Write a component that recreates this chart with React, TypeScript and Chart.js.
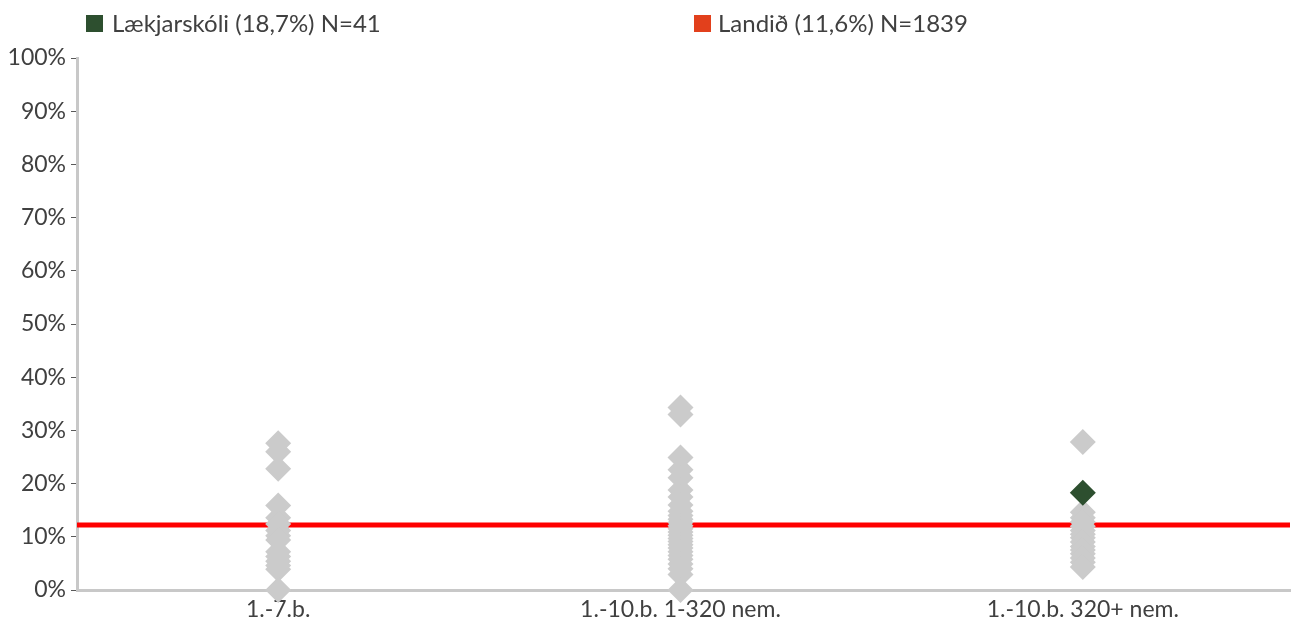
import React, { useEffect, useRef } from "react";
import { Chart, registerables } from "chart.js";

Chart.register(...registerables);

const categories = ["1.-7.b.", "1.-10.b. 1-320 nem.", "1.-10.b. 320+ nem."];
const yTickValues = [0, 10, 20, 30, 40, 50, 60, 70, 80, 90, 100];

// Other schools (grey diamonds), percent, by category
const schools1to7 = [27.6, 26.0, 22.8, 15.9, 13.6, 12.4, 11.2, 10.2, 9.4, 7.2, 6.3, 5.4, 4.6, 3.9, 0.0];
const schools1to10Small = [
  34.3, 33.0, 24.9, 22.6, 21.1, 18.8, 17.5, 16.0, 14.8, 14.0, 13.3, 12.7, 12.1, 11.5,
  10.9, 10.3, 9.7, 9.1, 8.5, 7.9, 7.2, 6.5, 5.8, 4.9, 4.0, 2.9, 0.0,
];
const schools1to10Large = [27.8, 14.6, 13.6, 12.8, 12.0, 11.2, 10.5, 9.8, 9.0, 8.2, 7.5, 6.8, 6.0, 5.2, 4.3];

// Highlighted school
const schoolName = "Lækjarskóli (18,7%) N=41";
const schoolCategoryIndex = 2;
const schoolValue = 18.3;

// National average line
const nationalName = "Landið (11,6%) N=1839";
const nationalValue = 12.2;

const greyColumns = [schools1to7, schools1to10Small, schools1to10Large];

export default function App() {
  const canvasRef = useRef<HTMLCanvasElement | null>(null);

  useEffect(() => {
    document.body.style.margin = "0";
    const canvas = canvasRef.current;
    if (!canvas) return;

    const greyPoints: { x: number; y: number }[] = [];
    greyColumns.forEach((col, i) => col.forEach((v) => greyPoints.push({ x: i, y: v })));

    const chart = new Chart(canvas, {
      type: "scatter",
      data: {
        datasets: [
          {
            label: schoolName,
            data: [{ x: schoolCategoryIndex, y: schoolValue }],
            pointStyle: "rectRot",
            pointRadius: 13,
            pointBackgroundColor: "#2d4f2f",
            pointBorderWidth: 0,
            clip: false,
          } as any,
          {
            label: "Aðrir skólar",
            data: greyPoints,
            pointStyle: "rectRot",
            pointRadius: 13,
            pointBackgroundColor: "#cbcbcb",
            pointBorderWidth: 0,
            clip: false,
          } as any,
          {
            type: "line",
            label: nationalName,
            data: [
              { x: -0.5, y: nationalValue },
              { x: 2.515, y: nationalValue },
            ],
            borderColor: "#ff0000",
            borderWidth: 5,
            pointRadius: 0,
            showLine: true,
            fill: false,
          } as any,
        ],
      },
      options: {
        animation: false,
        responsive: false,
        events: [],
        layout: { padding: { top: 58, right: 9, left: 0, bottom: 0 } },
        plugins: { legend: { display: false }, tooltip: { enabled: false } },
        scales: {
          x: {
            type: "linear",
            min: -0.5,
            max: 2.515,
            afterBuildTicks: (scale: any) => {
              scale.ticks = categories.map((_, i) => ({ value: i }));
            },
            afterFit: (scale: any) => {
              scale.height = 31;
            },
            grid: { display: false },
            border: { display: true, color: "#c8c8c8", width: 3 },
            ticks: {
              padding: -2,
              color: "#404040",
              font: { family: "Lato", size: 23 },
              callback: (v: any) => categories[Math.round(Number(v))] ?? "",
              maxRotation: 0,
              autoSkip: false,
            },
          },
          y: {
            min: 0,
            max: 100,
            afterBuildTicks: (scale: any) => {
              scale.ticks = yTickValues.map((v) => ({ value: v }));
            },
            afterFit: (scale: any) => {
              scale.width = 77;
            },
            grid: {
              drawOnChartArea: false,
              drawTicks: true,
              tickLength: 6,
              tickColor: "#595959",
              tickWidth: 1,
            },
            border: { display: true, color: "#c8c8c8", width: 3 },
            ticks: {
              padding: 5,
              color: "#404040",
              font: { family: "Lato", size: 23 },
              callback: (v: any) => `${v}%`,
            },
          },
        },
      },
    });
    return () => chart.destroy();
  }, []);

  const legendText: React.CSSProperties = {
    position: "absolute",
    top: 11,
    fontFamily: "Lato",
    fontSize: 24,
    color: "#404040",
    lineHeight: "24px",
    whiteSpace: "nowrap",
  };

  return (
    <div style={{ position: "relative", width: 1303, height: 621, background: "#fff" }}>
      <canvas ref={canvasRef} width={1303} height={621} style={{ display: "block" }} />
      <div style={{ position: "absolute", left: 86, top: 15, width: 17, height: 17, background: "#2d4f2f" }} />
      <div style={{ ...legendText, left: 112 }}>{schoolName}</div>
      <div style={{ position: "absolute", left: 694, top: 15, width: 17, height: 17, background: "#e2401c" }} />
      <div style={{ ...legendText, left: 718 }}>{nationalName}</div>
    </div>
  );
}
